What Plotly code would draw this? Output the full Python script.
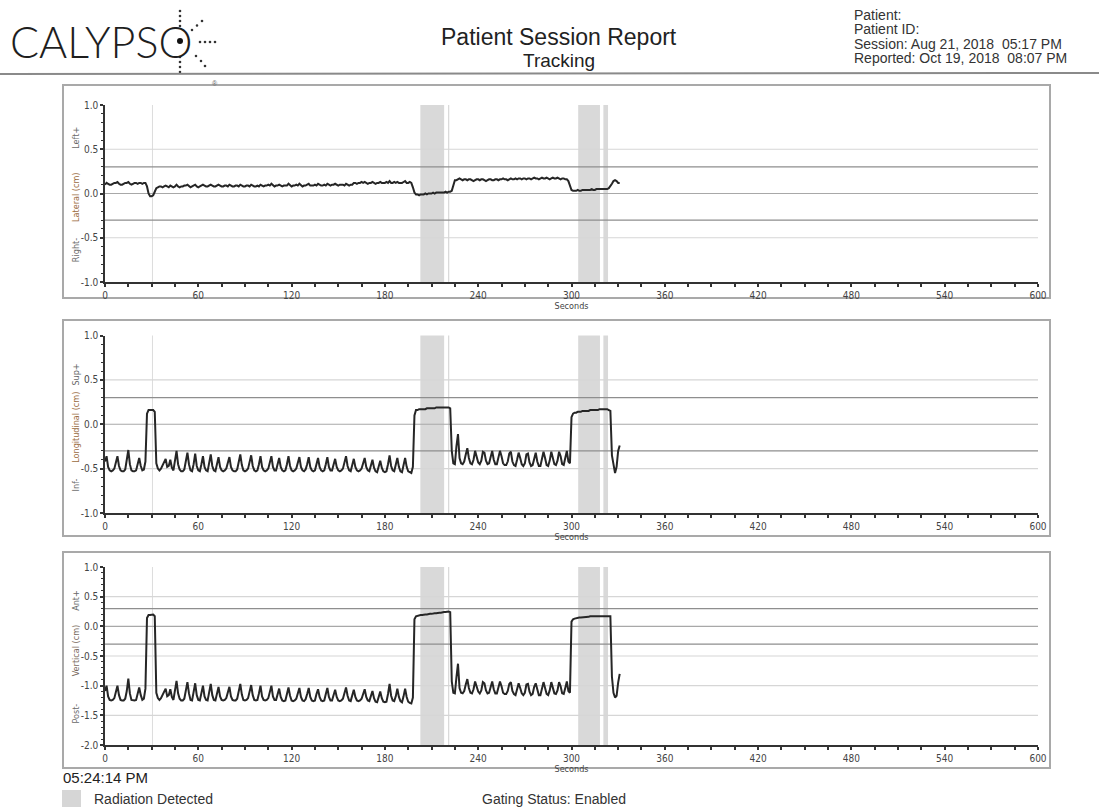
import plotly.graph_objects as go

W, H = 1099, 807

# ---------------- data ----------------
seconds = list(range(0, 332))

lateral = [
    0.10, 0.12, 0.11, 0.10, 0.10, 0.11, 0.12, 0.12, 0.13, 0.11,   # 0
    0.10, 0.10, 0.11, 0.12, 0.12, 0.13, 0.11, 0.10, 0.11, 0.12,   # 10
    0.12, 0.11, 0.12, 0.12, 0.11, 0.12, 0.12, 0.08, 0.00, -0.03,  # 20
    -0.03, -0.02, 0.02, 0.06, 0.07, 0.08, 0.08, 0.07, 0.08, 0.09, # 30
    0.08, 0.07, 0.09, 0.08, 0.07, 0.08, 0.10, 0.08, 0.07, 0.08,   # 40
    0.08, 0.09, 0.09, 0.10, 0.08, 0.07, 0.08, 0.09, 0.10, 0.08,   # 50
    0.07, 0.08, 0.09, 0.10, 0.09, 0.08, 0.08, 0.09, 0.10, 0.09,   # 60
    0.08, 0.08, 0.09, 0.10, 0.09, 0.08, 0.08, 0.09, 0.09, 0.08,   # 70
    0.10, 0.09, 0.08, 0.08, 0.09, 0.09, 0.08, 0.10, 0.09, 0.08,   # 80
    0.08, 0.09, 0.09, 0.08, 0.10, 0.09, 0.08, 0.08, 0.09, 0.08,   # 90
    0.10, 0.09, 0.08, 0.09, 0.09, 0.10, 0.09, 0.11, 0.09, 0.08,   # 100
    0.09, 0.09, 0.10, 0.09, 0.08, 0.09, 0.09, 0.09, 0.11, 0.09,   # 110
    0.08, 0.09, 0.09, 0.10, 0.09, 0.11, 0.09, 0.08, 0.09, 0.09,   # 120
    0.10, 0.11, 0.09, 0.09, 0.09, 0.10, 0.09, 0.11, 0.10, 0.09,   # 130
    0.09, 0.10, 0.09, 0.11, 0.10, 0.09, 0.10, 0.10, 0.11, 0.10,   # 140
    0.09, 0.10, 0.10, 0.10, 0.09, 0.11, 0.10, 0.09, 0.10, 0.10,   # 150
    0.12, 0.12, 0.11, 0.12, 0.12, 0.13, 0.12, 0.13, 0.12, 0.11,   # 160
    0.12, 0.12, 0.13, 0.12, 0.11, 0.12, 0.12, 0.13, 0.12, 0.12,   # 170
    0.12, 0.13, 0.12, 0.14, 0.12, 0.12, 0.13, 0.12, 0.13, 0.12,   # 180
    0.12, 0.12, 0.13, 0.14, 0.12, 0.12, 0.13, 0.12, 0.07, 0.01,   # 190
    -0.01, -0.01, -0.02, -0.01, -0.01, -0.01, 0.00, -0.01, 0.00, 0.00,  # 200
    0.00, 0.01, 0.00, 0.01, 0.01, 0.01, 0.01, 0.01, 0.01, 0.02,   # 210
    0.01, 0.02, 0.02, 0.03, 0.10, 0.15, 0.15, 0.16, 0.17, 0.16,   # 220
    0.15, 0.16, 0.16, 0.15, 0.16, 0.16, 0.15, 0.14, 0.15, 0.16,   # 230
    0.16, 0.15, 0.16, 0.16, 0.15, 0.14, 0.15, 0.16, 0.16, 0.15,   # 240
    0.15, 0.16, 0.16, 0.15, 0.16, 0.16, 0.17, 0.16, 0.16, 0.15,   # 250
    0.16, 0.17, 0.16, 0.16, 0.17, 0.16, 0.17, 0.17, 0.16, 0.17,   # 260
    0.17, 0.16, 0.17, 0.17, 0.16, 0.17, 0.18, 0.17, 0.17, 0.16,   # 270
    0.17, 0.18, 0.17, 0.17, 0.18, 0.17, 0.16, 0.17, 0.18, 0.17,   # 280
    0.17, 0.18, 0.17, 0.16, 0.17, 0.17, 0.16, 0.16, 0.14, 0.08,   # 290
    0.04, 0.03, 0.03, 0.03, 0.04, 0.03, 0.03, 0.04, 0.04, 0.04,   # 300
    0.04, 0.04, 0.04, 0.05, 0.04, 0.04, 0.05, 0.05, 0.05, 0.05,   # 310
    0.05, 0.05, 0.05, 0.05, 0.06, 0.08, 0.11, 0.14, 0.15, 0.14,   # 320
    0.12, 0.12,                                                   # 330
]

longitudinal = [
    -0.42, -0.36, -0.48, -0.52, -0.53, -0.52, -0.50, -0.44, -0.36, -0.47,  # 0
    -0.52, -0.53, -0.53, -0.51, -0.42, -0.29, -0.45, -0.52, -0.53, -0.53,  # 10
    -0.52, -0.46, -0.38, -0.47, -0.52, -0.51, -0.42, 0.12, 0.16, 0.16,     # 20
    0.16, 0.16, 0.14, -0.44, -0.50, -0.52, -0.50, -0.46, -0.42, -0.39,     # 30
    -0.48, -0.47, -0.40, -0.49, -0.52, -0.42, -0.30, -0.45, -0.51, -0.53,  # 40
    -0.53, -0.51, -0.43, -0.32, -0.45, -0.52, -0.53, -0.45, -0.33, -0.47,  # 50
    -0.52, -0.53, -0.45, -0.36, -0.48, -0.52, -0.53, -0.45, -0.34, -0.47,  # 60
    -0.52, -0.53, -0.46, -0.37, -0.48, -0.52, -0.53, -0.52, -0.50, -0.44,  # 70
    -0.37, -0.48, -0.52, -0.53, -0.53, -0.51, -0.43, -0.34, -0.46, -0.52,  # 80
    -0.53, -0.52, -0.50, -0.43, -0.35, -0.47, -0.52, -0.53, -0.52, -0.45,  # 90
    -0.36, -0.48, -0.52, -0.53, -0.52, -0.50, -0.44, -0.36, -0.48, -0.52,  # 100
    -0.52, -0.45, -0.38, -0.48, -0.52, -0.53, -0.52, -0.45, -0.36, -0.47,  # 110
    -0.52, -0.53, -0.52, -0.50, -0.44, -0.37, -0.48, -0.52, -0.53, -0.51,  # 120
    -0.45, -0.37, -0.48, -0.52, -0.53, -0.52, -0.45, -0.38, -0.48, -0.52,  # 130
    -0.53, -0.52, -0.45, -0.37, -0.48, -0.52, -0.52, -0.46, -0.39, -0.48,  # 140
    -0.52, -0.53, -0.52, -0.50, -0.43, -0.36, -0.47, -0.52, -0.53, -0.46,  # 150
    -0.39, -0.48, -0.52, -0.53, -0.52, -0.50, -0.44, -0.38, -0.48, -0.52,  # 160
    -0.53, -0.47, -0.40, -0.49, -0.53, -0.54, -0.48, -0.41, -0.49, -0.53,  # 170
    -0.54, -0.53, -0.45, -0.35, -0.47, -0.52, -0.53, -0.47, -0.38, -0.48,  # 180
    -0.53, -0.54, -0.47, -0.38, -0.48, -0.53, -0.54, -0.55, -0.48, 0.10,   # 190
    0.16, 0.16, 0.17, 0.17, 0.17, 0.17, 0.17, 0.18, 0.18, 0.18,            # 200
    0.18, 0.18, 0.18, 0.19, 0.19, 0.19, 0.19, 0.19, 0.19, 0.19,            # 210
    0.19, 0.19, 0.18, -0.30, -0.44, -0.45, -0.25, -0.11, -0.38, -0.44,     # 220
    -0.45, -0.42, -0.34, -0.27, -0.38, -0.44, -0.45, -0.40, -0.30, -0.36,  # 230
    -0.43, -0.45, -0.41, -0.31, -0.32, -0.41, -0.45, -0.44, -0.35, -0.30,  # 240
    -0.40, -0.45, -0.45, -0.38, -0.30, -0.36, -0.44, -0.46, -0.46, -0.42,  # 250
    -0.33, -0.31, -0.42, -0.46, -0.47, -0.40, -0.32, -0.38, -0.45, -0.47,  # 260
    -0.44, -0.34, -0.33, -0.43, -0.47, -0.46, -0.37, -0.32, -0.42, -0.47,  # 270
    -0.47, -0.40, -0.31, -0.38, -0.46, -0.47, -0.41, -0.31, -0.37, -0.45,  # 280
    -0.46, -0.41, -0.31, -0.36, -0.45, -0.46, -0.38, -0.30, -0.42, -0.44,  # 290
    0.08, 0.12, 0.13, 0.13, 0.14, 0.14, 0.14, 0.15, 0.15, 0.15,            # 300
    0.15, 0.15, 0.16, 0.16, 0.16, 0.16, 0.16, 0.16, 0.17, 0.17,            # 310
    0.17, 0.17, 0.17, 0.17, 0.16, 0.15, -0.35, -0.45, -0.55, -0.48,        # 320
    -0.30, -0.24,                                                          # 330
]

vertical = [
    -1.09, -1.00, -1.18, -1.24, -1.25, -1.24, -1.21, -1.12, -1.00, -1.16,  # 0
    -1.24, -1.25, -1.25, -1.22, -1.09, -0.88, -1.13, -1.24, -1.25, -1.25,  # 10
    -1.24, -1.15, -1.03, -1.16, -1.24, -1.22, -1.05, 0.14, 0.19, 0.19,     # 20
    0.20, 0.20, 0.17, -1.12, -1.21, -1.24, -1.21, -1.15, -1.09, -1.05,     # 30
    -1.18, -1.16, -1.06, -1.19, -1.24, -1.09, -0.92, -1.13, -1.22, -1.25,  # 40
    -1.25, -1.22, -1.10, -0.94, -1.13, -1.24, -1.25, -1.13, -0.96, -1.16,  # 50
    -1.24, -1.25, -1.13, -1.00, -1.18, -1.24, -1.25, -1.13, -0.97, -1.16,  # 60
    -1.24, -1.25, -1.15, -1.02, -1.18, -1.24, -1.25, -1.24, -1.21, -1.12,  # 70
    -1.02, -1.18, -1.24, -1.25, -1.25, -1.22, -1.10, -0.97, -1.15, -1.24,  # 80
    -1.25, -1.24, -1.21, -1.10, -0.99, -1.16, -1.24, -1.25, -1.24, -1.13,  # 90
    -1.00, -1.18, -1.24, -1.25, -1.24, -1.21, -1.12, -1.00, -1.18, -1.24,  # 100
    -1.24, -1.14, -1.05, -1.19, -1.25, -1.26, -1.25, -1.14, -1.03, -1.17,  # 110
    -1.25, -1.26, -1.25, -1.22, -1.13, -1.04, -1.19, -1.25, -1.26, -1.23,  # 120
    -1.14, -1.04, -1.19, -1.25, -1.26, -1.25, -1.14, -1.06, -1.19, -1.25,  # 130
    -1.26, -1.25, -1.14, -1.04, -1.19, -1.25, -1.25, -1.16, -1.07, -1.19,  # 140
    -1.25, -1.26, -1.25, -1.22, -1.12, -1.03, -1.17, -1.25, -1.26, -1.16,  # 150
    -1.07, -1.19, -1.25, -1.26, -1.25, -1.22, -1.13, -1.06, -1.19, -1.25,  # 160
    -1.26, -1.18, -1.09, -1.21, -1.27, -1.28, -1.20, -1.10, -1.21, -1.27,  # 170
    -1.28, -1.27, -1.14, -0.97, -1.17, -1.25, -1.26, -1.18, -1.05, -1.19,  # 180
    -1.26, -1.28, -1.18, -1.05, -1.19, -1.27, -1.29, -1.30, -1.20, 0.12,   # 190
    0.17, 0.18, 0.18, 0.19, 0.19, 0.20, 0.20, 0.20, 0.21, 0.21,            # 200
    0.21, 0.22, 0.22, 0.22, 0.23, 0.23, 0.23, 0.24, 0.24, 0.24,            # 210
    0.25, 0.25, 0.24, -0.93, -1.12, -1.13, -0.86, -0.63, -1.04, -1.12,     # 220
    -1.13, -1.09, -0.98, -0.89, -1.04, -1.12, -1.13, -1.06, -0.93, -1.01,  # 230
    -1.10, -1.13, -1.08, -0.94, -0.96, -1.08, -1.13, -1.12, -1.00, -0.93,  # 240
    -1.06, -1.13, -1.13, -1.04, -0.93, -1.01, -1.12, -1.14, -1.14, -1.09,  # 250
    -0.97, -0.94, -1.09, -1.14, -1.16, -1.06, -0.96, -1.04, -1.13, -1.16,  # 260
    -1.12, -0.98, -0.97, -1.10, -1.16, -1.14, -1.02, -0.96, -1.09, -1.16,  # 270
    -1.16, -1.06, -0.94, -1.04, -1.14, -1.16, -1.08, -0.94, -1.02, -1.13,  # 280
    -1.14, -1.08, -0.94, -1.01, -1.13, -1.14, -1.04, -0.93, -1.09, -1.12,  # 290
    0.08, 0.12, 0.13, 0.14, 0.14, 0.15, 0.15, 0.15, 0.16, 0.16,            # 300
    0.16, 0.16, 0.17, 0.17, 0.17, 0.17, 0.17, 0.17, 0.18, 0.18,            # 310
    0.18, 0.18, 0.18, 0.18, 0.18, 0.17, -0.85, -1.12, -1.20, -1.17,        # 320
    -0.95, -0.80,                                                          # 330
]

assert len(lateral) == len(seconds), len(lateral)
assert len(longitudinal) == len(seconds), len(longitudinal)
assert len(vertical) == len(seconds), len(vertical)

# radiation-detected intervals (seconds)
radiation_on = [(30.2, 30.8), (202.8, 218.1), (220.6, 221.4), (304.3, 318.3), (320.5, 323.5)]
tolerance = 0.3
x_major, x_minor, x_max = 60, 15, 600

ytick_vals_short = [1.0, 0.5, 0.0, -0.5, -1.0]
ytick_text_short = ["1.0", "0.5", "0.0", "-0.5", "-1.0"]
ytick_vals_long = [1.0, 0.5, 0.0, -0.5, -1.0, -1.5, -2.0]
ytick_text_long = ["1.0", "0.5", "0.0", "-0.5", "-1.0", "-1.5", "-2.0"]

panels = [
    dict(values=lateral, yrange=[-1.0, 1.0], grid=[0.5, -0.5],
         tickvals=ytick_vals_short, ticktext=ytick_text_short,
         labels=[("Left+", 0.63, "#6a6a6a"), ("Lateral (cm)", -0.05, "#9a6b3e"), ("Right-", -0.64, "#6a6a6a")]),
    dict(values=longitudinal, yrange=[-1.0, 1.0], grid=[0.5, -0.5],
         tickvals=ytick_vals_short, ticktext=ytick_text_short,
         labels=[("Sup+", 0.56, "#6a6a6a"), ("Longitudinal (cm)", -0.04, "#9a6b3e"), ("Inf-", -0.69, "#6a6a6a")]),
    dict(values=vertical, yrange=[-2.0, 1.0], grid=[0.5, -0.5, -1.0, -1.5],
         tickvals=ytick_vals_long, ticktext=ytick_text_long,
         labels=[("Ant+", 0.43, "#6a6a6a"), ("Vertical (cm)", -0.42, "#7a6a60"), ("Post-", -1.47, "#6a6a6a")]),
]

# ---------------- layout helpers (pixel -> paper) ----------------
def px(x):
    return x / W


def py(y):
    return 1 - y / H


x_domain = [px(105), px(1038)]
plot_px = [(105, 282), (335.5, 513), (567, 745)]      # top, bottom of each plot area
box_px = [(85, 298), (320, 536), (552, 768)]          # panel frames

narrow = "Liberation Sans Narrow, DejaVu Sans Condensed, Arial Narrow, sans-serif"
sans = "Liberation Sans, Arial, Helvetica, sans-serif"

fig = go.Figure()
shapes = []
annotations = []

for i, p in enumerate(panels):
    s = "" if i == 0 else str(i + 1)
    top, bot = plot_px[i]
    fig.add_trace(go.Scatter(
        x=seconds, y=p["values"], mode="lines",
        line=dict(color="#262626", width=2),
        xaxis="x" + s, yaxis="y" + s, hoverinfo="skip", showlegend=False))

    fig.layout["xaxis" + s] = dict(
        domain=x_domain, anchor="y" + s, range=[0, x_max], automargin=False,
        tick0=0, dtick=x_major, ticks="outside", ticklen=3, tickwidth=1.5, tickcolor="#333",
        minor=dict(dtick=x_minor, ticks="outside", ticklen=3, tickwidth=1.5, tickcolor="#333"),
        showline=True, linecolor="#333", linewidth=1.5, showgrid=False, zeroline=False,
        tickfont=dict(family=narrow, size=10, color="#444"),
        title=dict(text="Seconds", font=dict(family=narrow, size=9, color="#444"), standoff=0),
        fixedrange=True)
    fig.layout["yaxis" + s] = dict(
        domain=[py(bot), py(top)], anchor="x" + s, range=p["yrange"], automargin=False,
        tickmode="array", tickvals=p["tickvals"], ticktext=p["ticktext"],
        ticks="outside", ticklen=3, tickwidth=1.5, tickcolor="#333",
        minor=dict(tickmode="linear", tick0=0, dtick=0.1, ticks="outside", ticklen=2, tickwidth=1.2,
                   tickcolor="#333"),
        showline=True, linecolor="#333", linewidth=1.5, showgrid=False, zeroline=False,
        tickfont=dict(family=narrow, size=10, color="#444"), fixedrange=True)

    # panel frame
    btop, bbot = box_px[i]
    shapes.append(dict(type="rect", xref="paper", yref="paper",
                       x0=px(63), x1=px(1050), y0=py(bbot), y1=py(btop),
                       line=dict(color="#a9a9a9", width=2), fillcolor="rgba(0,0,0,0)", layer="below"))
    # radiation bands
    for a, b in radiation_on:
        shapes.append(dict(type="rect", xref="x" + s, yref="y" + s + " domain",
                           x0=a, x1=b, y0=0, y1=1, line=dict(width=0),
                           fillcolor="#d9d9d9", layer="below"))
    # grid lines
    for g in p["grid"]:
        shapes.append(dict(type="line", xref="x" + s + " domain", yref="y" + s,
                           x0=0, x1=1, y0=g, y1=g, line=dict(color="#d6d6d6", width=1.2), layer="below"))
    shapes.append(dict(type="line", xref="x" + s + " domain", yref="y" + s,
                       x0=0, x1=1, y0=0, y1=0, line=dict(color="#a8a8a8", width=1.2), layer="below"))
    for g in (tolerance, -tolerance):
        shapes.append(dict(type="line", xref="x" + s + " domain", yref="y" + s,
                           x0=0, x1=1, y0=g, y1=g, line=dict(color="#8e8e8e", width=1.3), layer="below"))
    # y-axis titles
    for text, yv, col in p["labels"]:
        annotations.append(dict(text=text, xref="paper", yref="y" + s, x=px(76), y=yv,
                                textangle=-90, showarrow=False, xanchor="center", yanchor="middle",
                                font=dict(family=narrow, size=9, color=col)))

# ---------------- header ----------------
annotations += [
    dict(text="CALYPSO", xref="paper", yref="paper", x=px(8), y=py(41), xanchor="left", yanchor="middle",
         showarrow=False, font=dict(family="Lato, Noto Sans, sans-serif", size=43, color="#1e1e1e", weight=300)),
    dict(text="®", xref="paper", yref="paper", x=px(210), y=py(78), showarrow=False,
         font=dict(family=sans, size=7, color="#666")),
    dict(text="Patient Session Report", xref="paper", yref="paper", x=px(559), y=py(37), showarrow=False,
         xanchor="center", yanchor="middle", font=dict(family=sans, size=23, color="#222")),
    dict(text="Tracking", xref="paper", yref="paper", x=px(559), y=py(60), showarrow=False,
         xanchor="center", yanchor="middle", font=dict(family=sans, size=19, color="#222")),
]
for text, yy in [("Patient:", 15), ("Patient ID:", 29.5), ("Session: Aug 21, 2018  05:17 PM", 44),
                 ("Reported: Oct 19, 2018  08:07 PM", 58)]:
    annotations.append(dict(text=text.replace("  ", "&nbsp; "), xref="paper", yref="paper", x=px(852), y=py(yy),
                            xanchor="left", yanchor="middle", showarrow=False,
                            font=dict(family=sans, size=14, color="#333")))

# logo rays (decoration)
ray_dots = [(180, 11), (180, 16), (180, 21), (180, 26),
            (192, 30), (197, 25.5), (202, 21),
            (200, 42), (205, 42), (210, 42), (215, 42),
            (196, 56), (201, 61), (205, 66),
            (180, 57), (180, 62), (180, 67), (180, 72)]
for (cx, cy) in ray_dots:
    r = 1.3
    shapes.append(dict(type="circle", xref="paper", yref="paper",
                       x0=px(cx - r), x1=px(cx + r), y0=py(cy + r), y1=py(cy - r),
                       fillcolor="#333", line=dict(width=0)))
shapes.append(dict(type="circle", xref="paper", yref="paper",
                   x0=px(177), x1=px(183), y0=py(44), y1=py(38), fillcolor="#111", line=dict(width=0)))

# header separator
shapes.append(dict(type="line", xref="paper", yref="paper", x0=0, x1=1, y0=py(74), y1=py(73),
                   line=dict(color="#8a8a8a", width=2)))

# ---------------- footer ----------------
annotations += [
    dict(text="05:24:14 PM", xref="paper", yref="paper", x=px(61), y=py(777), xanchor="left", yanchor="middle",
         showarrow=False, font=dict(family=sans, size=15, color="#222")),
    dict(text="Radiation Detected", xref="paper", yref="paper", x=px(92), y=py(799), xanchor="left",
         yanchor="middle", showarrow=False, font=dict(family=sans, size=14, color="#333")),
    dict(text="Gating Status: Enabled", xref="paper", yref="paper", x=px(480), y=py(799), xanchor="left",
         yanchor="middle", showarrow=False, font=dict(family=sans, size=14, color="#333")),
]
shapes.append(dict(type="rect", xref="paper", yref="paper", x0=px(62), x1=px(81), y0=py(807), y1=py(790),
                   fillcolor="#d6d6d6", line=dict(width=0)))

fig.update_layout(
    template="none",
    width=W, height=H, margin=dict(l=0, r=0, t=0, b=0, pad=0), autosize=False,
    paper_bgcolor="white", plot_bgcolor="white", showlegend=False,
    shapes=shapes, annotations=annotations,
)

fig.write_html("out.html", config={"displayModeBar": False},
               post_script="document.body.style.margin='0';document.body.style.overflow='hidden';")
